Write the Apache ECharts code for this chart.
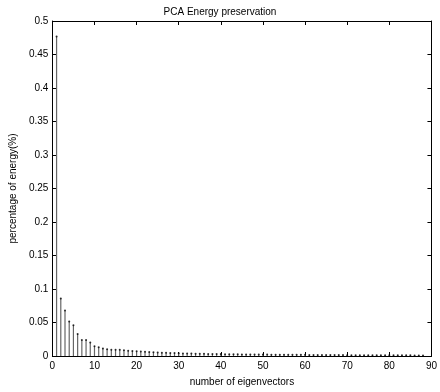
<!DOCTYPE html>
<html>
<head>
<meta charset="utf-8">
<style>
html,body{margin:0;padding:0;background:#fff;}
#chart{width:440px;height:392px;}
</style>
<script src="https://cdn.jsdelivr.net/npm/echarts@6/dist/echarts.min.js"></script>
</head>
<body>
<div id="chart"></div>
<script>
const titleText = "PCA Energy preservation";
const xAxisName = "number of eigenvectors";
const yAxisName = "percentage of energy(%)";
const eigenIndex = [];
for (let i = 1; i <= 88; i++) eigenIndex.push(i);
const energy = [
  0.477, 0.0858, 0.068, 0.0516, 0.0458, 0.0327, 0.0239, 0.0239, 0.020, 0.0146,
  0.013, 0.0112, 0.0102, 0.0093, 0.0093, 0.0093, 0.0085, 0.0080, 0.0075, 0.0072,
  0.0068, 0.0062, 0.0058, 0.0055, 0.0052, 0.0050, 0.0047, 0.0045, 0.0043, 0.0041,
  0.0039, 0.0037, 0.0036, 0.0034, 0.0033, 0.0032, 0.0031, 0.0030, 0.0029, 0.0028,
  0.0027, 0.0026, 0.0026, 0.0025, 0.0024, 0.0024, 0.0023, 0.0022, 0.0022, 0.0021,
  0.0021, 0.0020, 0.0020, 0.0019, 0.0019, 0.0018, 0.0018, 0.0018, 0.0017, 0.0017,
  0.0016, 0.0016, 0.0016, 0.0015, 0.0015, 0.0015, 0.0014, 0.0014, 0.0014, 0.0013,
  0.0013, 0.0013, 0.0013, 0.0012, 0.0012, 0.0012, 0.0012, 0.0011, 0.0011, 0.0011,
  0.0011, 0.0010, 0.0010, 0.0010, 0.0010, 0.0009, 0.0009, 0.0009
];
const xRange = [0, 90, 10];
const yRange = [0, 0.5, 0.05];

const pts = eigenIndex.map((x, i) => [x, energy[i]]);
const font = 'Liberation Sans, Arial, Helvetica, sans-serif';
const chart = echarts.init(document.getElementById('chart'), null, {renderer: 'canvas'});
const axisLineStyle = {show: true, onZero: false, lineStyle: {color: '#000', width: 1}};
const tickStyle = {show: true, inside: true, length: 4, lineStyle: {color: '#000', width: 1}};
chart.setOption({
  animation: false,
  backgroundColor: '#fff',
  title: {
    text: titleText, left: 'center', top: 2,
    textStyle: {fontFamily: font, fontSize: 10, fontWeight: 'normal', color: '#000'}
  },
  grid: {left: 47, right: 4, top: 21, bottom: 29, containLabel: false},
  xAxis: [
    {type: 'value', position: 'bottom', min: xRange[0], max: xRange[1], interval: xRange[2],
     name: xAxisName, nameLocation: 'middle', nameGap: 21,
     nameTextStyle: {fontFamily: font, fontSize: 10, color: '#000'},
     axisLine: axisLineStyle, axisTick: tickStyle, splitLine: {show: false},
     axisLabel: {fontFamily: font, fontSize: 10, color: '#000', margin: 5}},
    {type: 'value', position: 'top', min: xRange[0], max: xRange[1], interval: xRange[2],
     axisLine: axisLineStyle, axisTick: tickStyle, splitLine: {show: false},
     axisLabel: {show: false}}
  ],
  yAxis: [
    {type: 'value', position: 'left', min: yRange[0], max: yRange[1], interval: yRange[2],
     name: yAxisName, nameLocation: 'middle', nameGap: 31, nameRotate: 90,
     nameTextStyle: {fontFamily: font, fontSize: 10, color: '#000'},
     axisLine: axisLineStyle, axisTick: tickStyle, splitLine: {show: false},
     axisLabel: {fontFamily: font, fontSize: 10, color: '#000', margin: 4}},
    {type: 'value', position: 'right', min: yRange[0], max: yRange[1], interval: yRange[2],
     axisLine: axisLineStyle, axisTick: tickStyle, splitLine: {show: false},
     axisLabel: {show: false}}
  ],
  series: [
    {type: 'bar', xAxisIndex: 0, yAxisIndex: 0, data: pts, barWidth: 1.2,
     itemStyle: {color: '#666'}, silent: true},
    {type: 'scatter', xAxisIndex: 0, yAxisIndex: 0, data: pts, symbol: 'circle', symbolSize: 2,
     itemStyle: {color: '#000'}, silent: true}
  ]
});
</script>
</body>
</html>
